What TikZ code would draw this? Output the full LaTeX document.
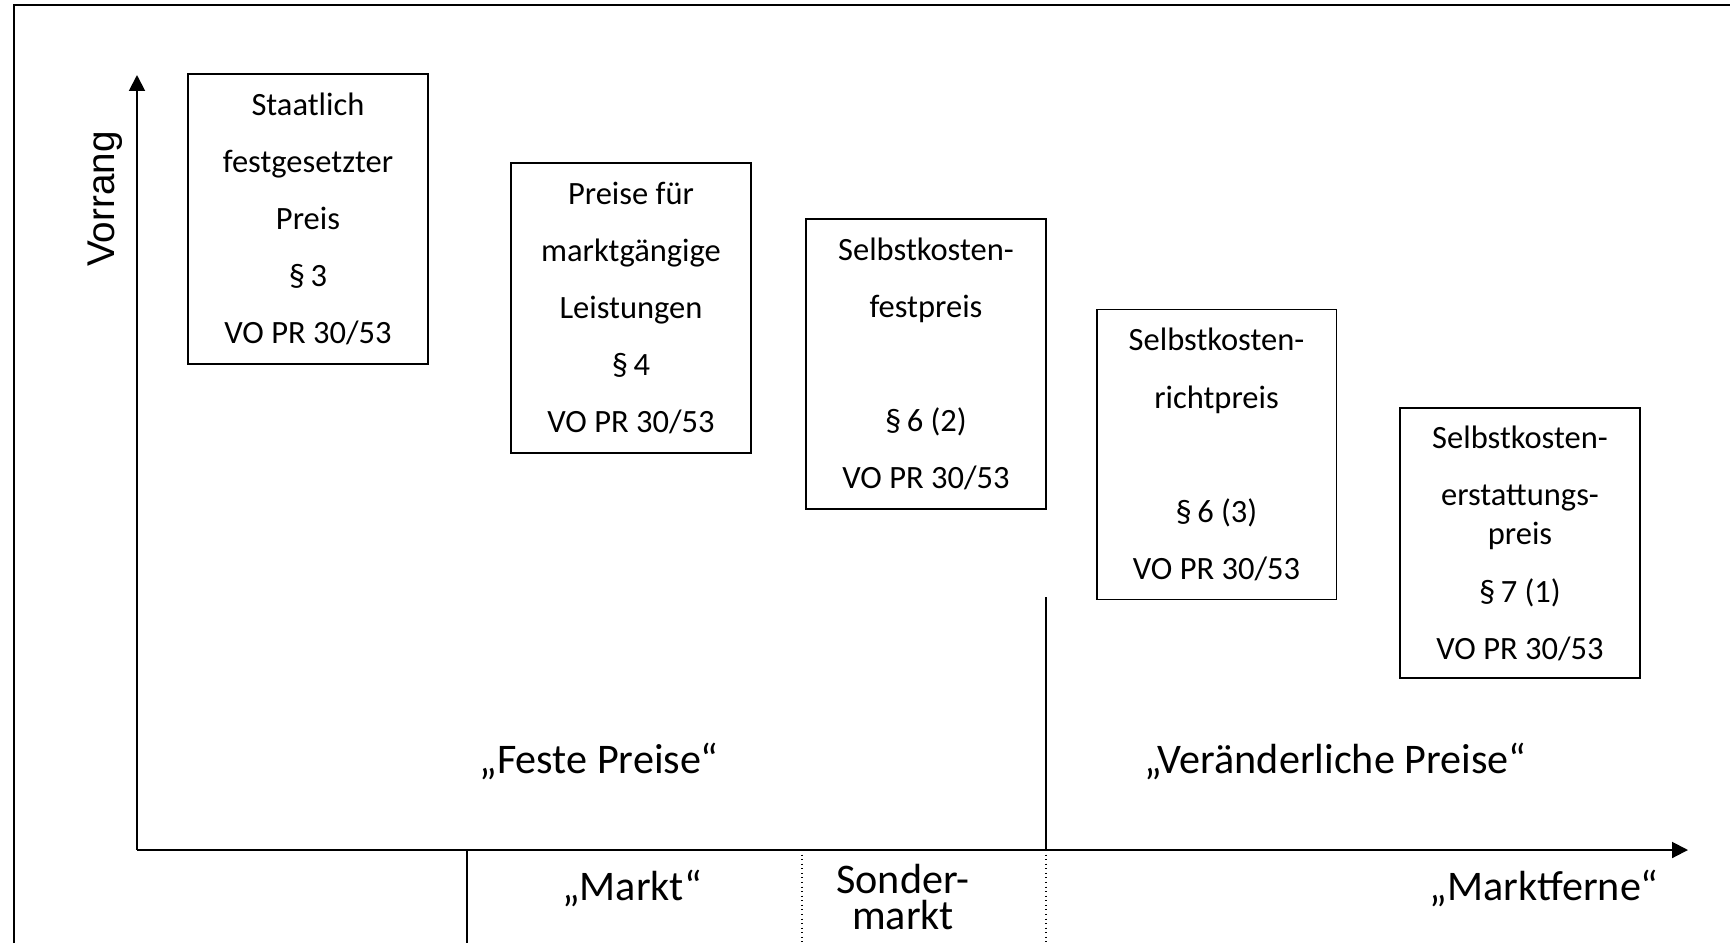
\documentclass[tikz,border=0pt]{standalone}
\usepackage{fontspec}
\setmainfont{Carlito}
\newfontfamily\axisfont{Liberation Sans}
\usetikzlibrary{arrows.meta,positioning}

\begin{document}
\begin{tikzpicture}[
    x=0.02cm, y=-0.02cm,
    box/.style={draw, line width=1.1pt, minimum width=4.8cm, minimum height=5.8cm, align=center, inner sep=0pt, font=\fontsize{18.5}{32.5}\selectfont},
    axis/.style={line width=1.1pt, -{Triangle[length=9pt, width=9pt]}},
    divider/.style={line width=1.1pt},
    marker/.style={line width=0.6pt, dotted},
    zone/.style={font=\fontsize{24}{19}\selectfont, align=center}
]
    \useasboundingbox (0,0) rectangle (1730,943);

    % Frame
    \draw[line width=1.7pt] (14,943) -- (14,5) -- (1730,5);

    % Axes
    \coordinate (O) at (137,850);
    \coordinate (ytip) at (137,75);
    \coordinate (xtip) at (1688,850);
    \draw[axis] (O) -- (ytip);
    \draw[axis] (O) -- (xtip);
    \node[rotate=90, font=\axisfont\fontsize{22}{26}\selectfont] (vorrang) at (105,199) {Vorrang};

    % Price types
    \node[box] (staat) at (308,219) {Staatlich\\festgesetzter\\Preis\\§\,3\\VO PR 30/53};
    \node[box] (markt) at (631,308) {Preise für\\marktgängige\\Leistungen\\§\,4\\VO PR 30/53};
    \node[box] (festp) at (926,364) {Selbstkosten-\\festpreis\\~\\§\,6 (2)\\VO PR 30/53};
    \node[box] (richtp) at (1216.5,454.5) {Selbstkosten-\\richtpreis\\~\\§\,6 (3)\\VO PR 30/53};
    \node[box, minimum height=5.4cm] (erstp) at (1520,543) {Selbstkosten-\\erstattungs-\\[-9.8pt]preis\\§\,7 (1)\\VO PR 30/53};

    % Divider fixed / variable
    \coordinate (div) at (1046,597);
    \coordinate (divend) at (1046,943);
    \draw[divider] (div) -- (div |- O);
    \draw[marker] (div |- O) -- (divend);

    % Market segments
    \coordinate (m1) at (467,850);
    \coordinate (m1end) at (467,943);
    \coordinate (m2) at (802,850);
    \coordinate (m2end) at (802,943);
    \draw[divider] (m1) -- (m1end);
    \draw[marker] (m2) -- (m2end);

    % Labels
    \node[zone] (feste) at (599,761) {„Feste Preise“};
    \node[zone] (veraend) at (1335,761) {„Veränderliche Preise“};
    \node[zone] (marktl) at (632,888) {„Markt“};
    \node[zone, font=\fontsize{24}{20.5}\selectfont] (sonder) at (903,897) {Sonder-\\markt};
    \node[zone] (ferne) at (1544,888) {„Marktferne“};
\end{tikzpicture}
\end{document}
